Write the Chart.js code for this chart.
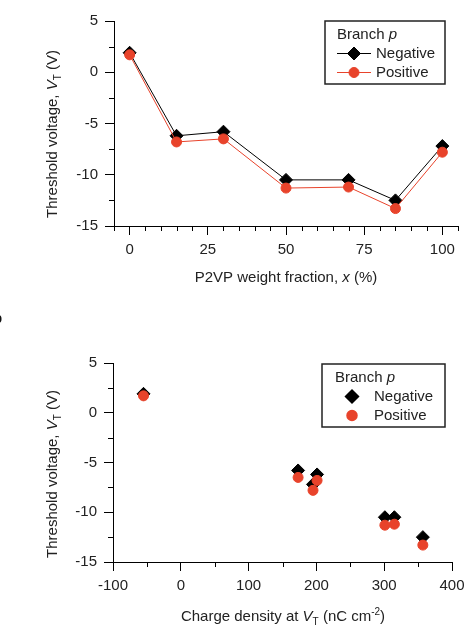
<!DOCTYPE html>
<html>
<head>
<meta charset="utf-8">
<script src="https://cdn.jsdelivr.net/npm/chart.js@4.4.0/dist/chart.umd.min.js"></script>
<style>
  html, body { margin: 0; padding: 0; background: #fff; }
  body { width: 471px; height: 633px; position: relative; overflow: hidden; }
  canvas { position: absolute; left: 0; }
  #chart-a { top: 0; }
  #chart-b { top: 310px; }
  .tag { position: absolute; left: -7px; top: 309px; font: bold 15px "Liberation Sans", Arial, sans-serif; color: #111; }
</style>
</head>
<body>
<canvas id="chart-a" width="471" height="310"></canvas>
<div class="tag">b</div>
<canvas id="chart-b" width="471" height="323"></canvas>
<script>
// ── data ──
const FRACTION = [0, 15, 30, 50, 70, 85, 100];          // P2VP weight fraction, %
const CHARGE   = [-55, 201, 173, 301, 315, 357, 195];   // charge density at VT, nC cm^-2
const VT_NEG   = [1.9, -6.2, -5.8, -10.5, -10.5, -12.5, -7.2];
const VT_POS   = [1.7, -6.8, -6.5, -11.3, -11.2, -13.3, -7.8];
const SERIES   = ['Negative', 'Positive'];

const FRACTION_TICKS = [0, 25, 50, 75, 100];
const CHARGE_TICKS   = [-100, 0, 100, 200, 300, 400];
const VT_TICKS       = [-15, -10, -5, 0, 5];

const FONT = '"Liberation Sans", Arial, sans-serif';
const TEXT = '#222';
const RED  = '#e8432b';

function minorBetween(min, max, step, majors) {
  const out = [];
  for (let v = min; v <= max + 1e-9; v += step) {
    if (!majors.some(m => Math.abs(m - v) < 1e-9)) out.push(v);
  }
  return out;
}

// short unlabelled ticks between the major ones
const minorTicks = {
  id: 'minorTicks',
  afterDraw(chart, args, opts) {
    const ctx = chart.ctx, xs = chart.scales.x, ys = chart.scales.y;
    ctx.save();
    ctx.strokeStyle = '#000';
    ctx.lineWidth = 1;
    ctx.beginPath();
    opts.x.forEach(v => {
      const px = Math.round(xs.getPixelForValue(v)) + 0.5;
      ctx.moveTo(px, ys.bottom); ctx.lineTo(px, ys.bottom + 5);
    });
    opts.y.forEach(v => {
      const py = Math.round(ys.getPixelForValue(v)) + 0.5;
      ctx.moveTo(xs.left, py); ctx.lineTo(xs.left - 5, py);
    });
    ctx.stroke();
    ctx.restore();
  }
};

// text runs with italic / sub / sup parts, centred on (x, y)
function richText(ctx, parts, x, y, rot, size) {
  ctx.save();
  ctx.translate(x, y);
  if (rot) ctx.rotate(rot);
  ctx.textBaseline = 'middle';
  ctx.textAlign = 'left';
  ctx.fillStyle = TEXT;
  const fontOf = p => `${p.i ? 'italic ' : ''}${(p.sub || p.sup) ? Math.round(size * 0.65) : size}px ${FONT}`;
  let w = 0;
  parts.forEach(p => { ctx.font = fontOf(p); p.w = ctx.measureText(p.t).width; w += p.w; });
  let cx = -w / 2;
  parts.forEach(p => {
    ctx.font = fontOf(p);
    const dy = p.sub ? size * 0.32 : p.sup ? -size * 0.35 : 0;
    ctx.fillText(p.t, cx, dy);
    cx += p.w;
  });
  ctx.restore();
}

const axisTitles = {
  id: 'axisTitles',
  afterDraw(chart, args, opts) {
    const ctx = chart.ctx;
    richText(ctx, opts.x.parts, opts.x.at[0], opts.x.at[1], 0, 15);
    richText(ctx, opts.y.parts, opts.y.at[0], opts.y.at[1], -Math.PI / 2, 15);
  }
};

const branchLegend = {
  id: 'branchLegend',
  afterDraw(chart, args, o) {
    const ctx = chart.ctx;
    const [l, t, r, b] = o.box;
    ctx.save();
    ctx.fillStyle = '#fff';
    ctx.fillRect(l, t, r - l, b - t);
    ctx.strokeStyle = '#222';
    ctx.lineWidth = 1.5;
    ctx.strokeRect(l, t, r - l, b - t);

    ctx.fillStyle = TEXT;
    ctx.textBaseline = 'middle';
    ctx.textAlign = 'left';
    ctx.font = `15px ${FONT}`;
    ctx.fillText('Branch ', o.titleX, o.titleY);
    const bw = ctx.measureText('Branch ').width;
    ctx.font = `italic 15px ${FONT}`;
    ctx.fillText('p', o.titleX + bw, o.titleY);

    chart.data.datasets.forEach((ds, i) => {
      const y = o.rows[i];
      if (o.showLine) {
        ctx.strokeStyle = ds.borderColor;
        ctx.lineWidth = 1;
        ctx.beginPath();
        ctx.moveTo(o.lineX[0], y); ctx.lineTo(o.lineX[1], y);
        ctx.stroke();
      }
      ctx.fillStyle = ds.backgroundColor;
      ctx.strokeStyle = ds.backgroundColor;
      Chart.helpers.drawPoint(ctx, { pointStyle: ds.pointStyle, radius: ds.pointRadius, rotation: 0, borderWidth: 1 }, o.markX, y);
      ctx.fillStyle = TEXT;
      ctx.font = `15px ${FONT}`;
      ctx.fillText(ds.label, o.textX, y);
    });
    ctx.restore();
  }
};

function axis(min, max, majors, fitKey, fitVal, pad) {
  return {
    type: 'linear', min, max,
    afterFit: s => { s[fitKey] = fitVal; },
    afterBuildTicks: s => { s.ticks = majors.map(v => ({ value: v })); },
    grid: { drawOnChartArea: false, color: '#000', tickLength: 9, tickWidth: 1 },
    border: { color: '#000', width: 1 },
    ticks: { color: TEXT, font: { size: 15, family: FONT }, padding: pad, maxRotation: 0, autoSkip: false }
  };
}

function series(xs, showLine) {
  return [
    { label: SERIES[0], data: xs.map((x, i) => ({ x, y: VT_NEG[i] })), borderColor: '#000', backgroundColor: '#000',
      pointStyle: 'rectRot', pointRadius: 6.5, pointBorderWidth: 1, borderWidth: 1, showLine, order: 1 },
    { label: SERIES[1], data: xs.map((x, i) => ({ x, y: VT_POS[i] })), borderColor: RED, backgroundColor: RED,
      pointStyle: 'circle', pointRadius: 5, pointBorderWidth: 1, borderWidth: 1, showLine, order: 0 }
  ];
}

const VT_TITLE = [{ t: 'Threshold voltage, ' }, { t: 'V', i: true }, { t: 'T', sub: true }, { t: ' (V)' }];

// ── panel a: VT vs composition ──
new Chart(document.getElementById('chart-a'), {
  type: 'line',
  data: { datasets: series(FRACTION, true) },
  options: {
    responsive: false, animation: false, events: [],
    layout: { autoPadding: false, padding: { left: 0, right: 13, top: 21, bottom: 0 } },
    scales: {
      x: axis(-5, 105, FRACTION_TICKS, 'height', 84, 6),
      y: axis(-15, 5, VT_TICKS, 'width', 114, 7)
    },
    plugins: {
      legend: { display: false }, tooltip: { enabled: false },
      minorTicks: { x: minorBetween(-5, 105, 5, FRACTION_TICKS), y: minorBetween(-15, 5, 2.5, VT_TICKS) },
      axisTitles: {
        x: { parts: [{ t: 'P2VP weight fraction, ' }, { t: 'x', i: true }, { t: ' (%)' }], at: [286, 278] },
        y: { parts: VT_TITLE, at: [53, 134] }
      },
      branchLegend: { box: [325, 21, 445, 84], titleX: 337, titleY: 35, rows: [53.5, 72.5],
                      lineX: [337, 371], markX: 354, textX: 376, showLine: true }
    }
  },
  plugins: [minorTicks, axisTitles, branchLegend]
});

// ── panel b: VT vs charge density ──
new Chart(document.getElementById('chart-b'), {
  type: 'scatter',
  data: { datasets: series(CHARGE, false) },
  options: {
    responsive: false, animation: false, events: [],
    layout: { autoPadding: false, padding: { left: 0, right: 19, top: 53, bottom: 0 } },
    scales: {
      x: axis(-100, 400, CHARGE_TICKS, 'height', 71, 6),
      y: axis(-15, 5, VT_TICKS, 'width', 113, 7)
    },
    plugins: {
      legend: { display: false }, tooltip: { enabled: false },
      minorTicks: { x: minorBetween(-100, 400, 50, CHARGE_TICKS), y: minorBetween(-15, 5, 2.5, VT_TICKS) },
      axisTitles: {
        x: { parts: [{ t: 'Charge density at ' }, { t: 'V', i: true }, { t: 'T', sub: true }, { t: ' (nC cm' }, { t: '-2', sup: true }, { t: ')' }], at: [283, 307] },
        y: { parts: VT_TITLE, at: [53, 164] }
      },
      branchLegend: { box: [322, 54, 445, 117], titleX: 335, titleY: 67.5, rows: [86.5, 105.5],
                      lineX: [0, 0], markX: 352, textX: 374, showLine: false }
    }
  },
  plugins: [minorTicks, axisTitles, branchLegend]
});
</script>
</body>
</html>
